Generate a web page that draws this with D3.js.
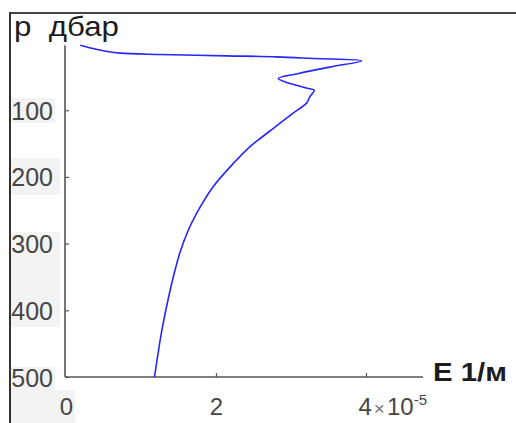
<!DOCTYPE html>
<html lang="ru">
<head>
<meta charset="utf-8">
<script src="https://cdn.jsdelivr.net/npm/d3@7"></script>
<style>
    body { margin: 0; background: #fff; }
    svg { display: block; font-family: "Liberation Sans", Arial, sans-serif; }
</style>
</head>
<body>
<div id="chart"></div>
<script>
    // profile: pressure (dbar) and E (in units of 1e-5 1/m)
    var pressure = [2.5, 7.5, 12, 14.5, 16.5, 18.5, 20, 22.5, 26, 35, 45, 52.5, 60, 67.5, 70, 80, 89,
                    105, 125, 145, 155, 180, 215, 245, 280, 315, 355, 395, 435, 470, 500];
    var eValues  = [0.19, 0.36, 0.55, 0.72, 1.25, 2.14, 2.81, 3.30, 3.94, 3.53, 3.10, 2.83, 2.99, 3.23, 3.31, 3.25, 3.21,
                    3.02, 2.79, 2.56, 2.45, 2.23, 1.96, 1.79, 1.63, 1.515, 1.42, 1.34, 1.27, 1.22, 1.18];
    var yTicks = [100, 200, 300, 400, 500];
    var xTicks = [0, 2, 4];

    var w = 516, h = 423;

    var svg = d3.select("#chart").append("svg")
        .attr("width", w)
        .attr("height", h);

    // faint grey patches behind the tick labels (as in the scan)
    var patches = [[10, 98, 45, 25], [10, 158, 50, 37], [10, 232, 50, 95], [10, 367, 45, 56], [53, 390, 22, 33]];
    svg.selectAll("rect.patch")
        .data(patches)
        .enter().append("rect")
        .attr("class", "patch")
        .attr("x", function(d) { return d[0]; })
        .attr("y", function(d) { return d[1]; })
        .attr("width", function(d) { return d[2]; })
        .attr("height", function(d) { return d[3]; })
        .attr("fill", "#f3f3f3");

    // outer frame: top and left edges
    svg.append("line").attr("x1", 9).attr("x2", w).attr("y1", 13).attr("y2", 13)
        .attr("stroke", "#444").attr("stroke-width", 2);
    svg.append("line").attr("x1", 10).attr("x2", 10).attr("y1", 12).attr("y2", h)
        .attr("stroke", "#333").attr("stroke-width", 2);

    var x = d3.scaleLinear().domain([0, 4.76]).range([66, 423]);
    var y = d3.scaleLinear().domain([0, 500]).range([43.5, 377]);

    // y axis
    var yAxis = svg.append("g")
        .attr("transform", "translate(65,0)")
        .call(d3.axisLeft(y).tickValues(yTicks).tickSizeInner(-4).tickSizeOuter(0).tickPadding(12));
    yAxis.select(".domain").attr("stroke", "#555").attr("stroke-width", 1.6)
        .attr("d", "M0," + (y(2.5)) + "V" + y(500));
    yAxis.selectAll(".tick line").attr("stroke", "#555").attr("stroke-width", 1.2);
    yAxis.selectAll(".tick text")
        .attr("font-size", 25)
        .attr("font-family", "Liberation Sans, Arial, sans-serif")
        .attr("fill", "#464646")
        .attr("dy", "0.36em");

    // x axis
    var xAxis = svg.append("g")
        .attr("transform", "translate(0,377)")
        .call(d3.axisBottom(x).tickValues(xTicks).tickFormat(d3.format("d"))
            .tickSizeInner(-4).tickSizeOuter(0).tickPadding(21));
    xAxis.select(".domain").attr("stroke", "#555").attr("stroke-width", 1.6)
        .attr("d", "M65,0H" + x(4.76));
    xAxis.selectAll(".tick line").attr("stroke", "#555").attr("stroke-width", 1.2)
        .style("display", function(d) { return d === 0 ? "none" : null; });
    xAxis.selectAll(".tick text")
        .attr("font-size", 24)
        .attr("font-family", "Liberation Sans, Arial, sans-serif")
        .attr("fill", "#464646");

    // last tick carries the multiplier
    var last = xAxis.selectAll(".tick text").filter(function(d) { return d === 4; });
    last.text(null).attr("text-anchor", "start").attr("x", -8);
    last.append("tspan").text("4");
    last.append("tspan").text("\u00d7").attr("font-size", 19).attr("fill", "#777").attr("dx", 2);
    last.append("tspan").text("10").attr("dx", 2);
    last.append("tspan").text("-5").attr("font-size", 15).attr("dy", "-0.7em");

    // profile line
    var line = d3.line()
        .x(function(d, i) { return x(eValues[i]); })
        .y(function(d) { return y(d); })
        .curve(d3.curveCatmullRom.alpha(0.5));

    svg.append("path")
        .datum(pressure)
        .attr("d", line)
        .attr("fill", "none")
        .attr("stroke", "#2626ff")
        .attr("stroke-width", 1.6)
        .attr("stroke-linejoin", "round");

    // axis titles
    svg.append("text")
        .attr("x", 14).attr("y", 36)
        .attr("font-size", 27)
        .attr("fill", "#1c1c1c")
        .attr("textLength", 105)
        .attr("lengthAdjust", "spacingAndGlyphs")
        .attr("xml:space", "preserve")
        .text("р  дбар");

    svg.append("text")
        .attr("x", 433).attr("y", 381)
        .attr("font-size", 26)
        .attr("font-weight", "bold")
        .attr("fill", "#1c1c1c")
        .attr("textLength", 74)
        .attr("lengthAdjust", "spacingAndGlyphs")
        .text("E 1/м");
</script>
</body>
</html>
